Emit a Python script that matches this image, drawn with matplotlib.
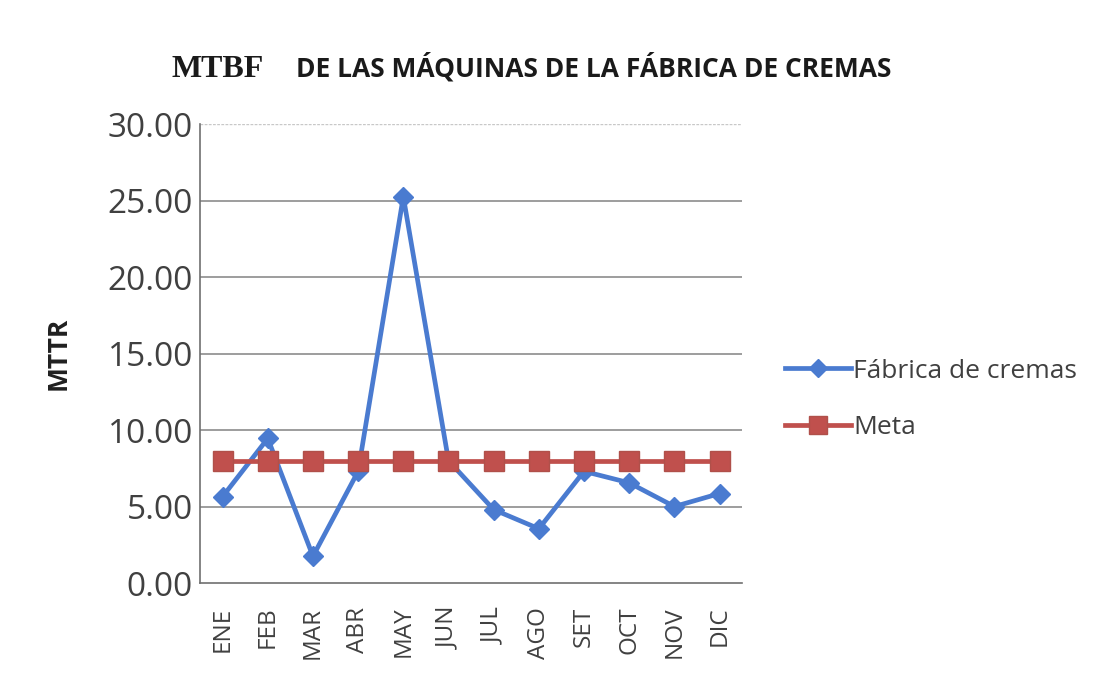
import matplotlib
matplotlib.use("Agg")
import matplotlib.pyplot as plt

months = ["ENE", "FEB", "MAR", "ABR", "MAY", "JUN", "JUL", "AGO", "SET", "OCT", "NOV", "DIC"]
fabrica = [5.65, 9.45, 1.75, 7.3, 25.25, 8.0, 4.8, 3.55, 7.3, 6.55, 5.0, 5.85]
meta = [8.0] * 12
yticks = [0, 5, 10, 15, 20, 25, 30]

blue = "#4a7bd0"
red = "#c0504d"
txt = "#404040"

fig = plt.figure(figsize=(10.93, 6.77), dpi=100)
ax = fig.add_axes([0.183, 0.1388, 0.496, 0.678])

x = list(range(len(months)))
ax.plot(x, fabrica, color=blue, lw=3.4, marker="D", markersize=10, zorder=3,
        label="Fábrica de cremas")
ax.plot(x, meta, color=red, lw=3.4, marker="s", markersize=15,
        markeredgecolor="#b0504a", zorder=4, label="Meta")

ax.set_xlim(-0.5, 11.5)
ax.set_ylim(0, 30)
ax.set_yticks(yticks)
ax.set_yticklabels([f"{v:.2f}" for v in yticks], fontsize=24, family="Open Sans", color=txt)
ax.set_xticks(x)
ax.set_xticklabels(months, rotation=90, fontsize=17.5, family="Open Sans", color=txt)
ax.tick_params(axis="x", length=0, pad=17)
ax.tick_params(axis="y", length=0, pad=5)

for v in yticks[1:-1]:
    ax.axhline(v, color="#8c8c8c", lw=1.2, zorder=1)
ax.axhline(30, color="#c8c8c8", lw=1.0, ls=(0, (2, 1)), zorder=1)

for s in ["top", "right"]:
    ax.spines[s].set_visible(False)
ax.spines["left"].set_color("#707070")
ax.spines["bottom"].set_color("#707070")
ax.spines["left"].set_linewidth(1.2)
ax.spines["bottom"].set_linewidth(1.2)

ax.set_ylabel("MTTR", fontsize=19, family="Open Sans", fontweight="bold", color="#202020",
              labelpad=26)

fig.text(0.157, 0.898, "MTBF", fontsize=23, family="Liberation Serif", fontweight="bold",
         color="#1a1a1a", va="center", ha="left")
fig.text(0.271, 0.900, "DE LAS MÁQUINAS DE LA FÁBRICA DE CREMAS", fontsize=19,
         family="Open Sans", fontweight="bold", color="#1a1a1a", va="center", ha="left")

leg = ax.legend(loc="center left", bbox_to_anchor=(1.035, 0.40), frameon=False,
                prop={"family": "Open Sans", "size": 19},
                handlelength=2.5, handletextpad=0.1, labelspacing=1.2, markerscale=0.9)
for t in leg.get_texts():
    t.set_color(txt)

fig.savefig("out.png", dpi=100, facecolor="white")
